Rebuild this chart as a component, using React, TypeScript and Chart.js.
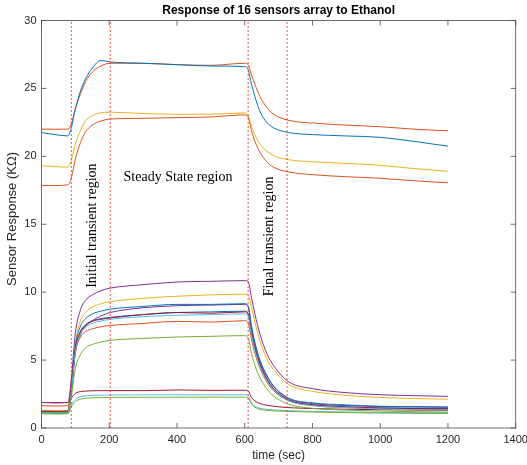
import React, { useEffect, useRef } from "react";
import { Chart, registerables } from "chart.js";

Chart.register(...registerables);

// ---- data -------------------------------------------------------------
const TIMES = [0, 40, 78, 88, 100, 115, 130, 150, 175, 203, 300, 400, 500, 600, 610, 620, 630, 645, 665, 685, 730, 800, 900, 1000, 1100, 1200];

// upper group
const S_BLUE_HI = [21.75, 21.6, 21.5, 22.1, 23.5, 24.8, 25.7, 26.5, 27.05, 26.95, 26.85, 26.75, 26.65, 26.6, 26.4, 25.3, 24.4, 23.3, 22.5, 22.1, 21.75, 21.6, 21.5, 21.4, 21.1, 20.75];
const S_RED_HI = [22.0, 22.0, 22.0, 22.4, 23.5, 24.6, 25.5, 26.2, 26.65, 26.85, 26.85, 26.75, 26.7, 26.85, 26.75, 26.0, 25.3, 24.4, 23.6, 23.1, 22.65, 22.45, 22.3, 22.18, 22.0, 21.88];
const S_YELLOW_HI = [19.3, 19.25, 19.2, 19.7, 20.9, 21.9, 22.6, 23.0, 23.2, 23.25, 23.15, 23.1, 23.1, 23.2, 23.05, 22.2, 21.6, 20.9, 20.4, 20.05, 19.75, 19.6, 19.48, 19.34, 19.1, 18.9];
const S_RED_MID = [17.85, 17.85, 17.9, 18.4, 19.8, 21.0, 21.8, 22.3, 22.6, 22.75, 22.8, 22.85, 22.9, 23.05, 22.9, 21.9, 21.1, 20.3, 19.6, 19.2, 18.85, 18.65, 18.5, 18.38, 18.2, 18.05];

// lower group
const S_PURPLE_A = [1.88, 1.86, 1.88, 3.6, 7.0, 8.7, 9.4, 9.8, 10.1, 10.3, 10.55, 10.75, 10.8, 10.85, 10.8, 9.6, 8.4, 6.9, 5.5, 4.6, 3.4, 2.9, 2.6, 2.45, 2.38, 2.33];
const S_YELLOW_LO = [1.3, 1.28, 1.3, 3.0, 6.2, 7.9, 8.5, 8.9, 9.15, 9.3, 9.55, 9.7, 9.8, 9.85, 9.8, 8.9, 7.8, 6.4, 5.1, 4.3, 3.2, 2.7, 2.4, 2.25, 2.17, 2.12];
const S_BLUE_A = [1.15, 1.12, 1.15, 2.9, 6.0, 7.5, 8.05, 8.4, 8.6, 8.75, 8.95, 9.1, 9.1, 9.15, 9.0, 7.5, 6.3, 5.0, 3.9, 3.1, 2.2, 1.85, 1.7, 1.6, 1.57, 1.55];
const S_PURPLE_B = [1.22, 1.2, 1.22, 2.7, 5.5, 6.9, 7.5, 7.9, 8.25, 8.5, 8.85, 9.0, 9.05, 9.1, 8.95, 7.4, 6.2, 4.9, 3.8, 3.05, 2.15, 1.8, 1.65, 1.58, 1.55, 1.52];
const S_BLUE_B = [1.1, 1.08, 1.1, 2.8, 5.7, 7.1, 7.6, 7.9, 8.05, 8.15, 8.35, 8.5, 8.55, 8.6, 8.45, 7.0, 5.9, 4.7, 3.6, 2.9, 2.05, 1.7, 1.55, 1.48, 1.45, 1.43];
const S_MAROON_A = [1.25, 1.22, 1.25, 2.9, 5.8, 7.1, 7.55, 7.85, 8.0, 8.1, 8.35, 8.5, 8.45, 8.55, 8.4, 7.0, 5.9, 4.7, 3.6, 2.9, 2.05, 1.72, 1.55, 1.47, 1.43, 1.4];
const S_CYAN_A = [1.15, 1.13, 1.15, 2.7, 5.6, 6.9, 7.4, 7.7, 7.88, 8.0, 8.2, 8.3, 8.35, 8.4, 8.25, 6.8, 5.7, 4.5, 3.5, 2.8, 2.0, 1.65, 1.5, 1.4, 1.35, 1.33];
const S_ORANGE_LO = [1.64, 1.62, 1.64, 3.0, 5.6, 6.7, 7.1, 7.3, 7.45, 7.55, 7.7, 7.85, 7.8, 7.9, 7.75, 6.5, 5.5, 4.4, 3.4, 2.75, 2.0, 1.65, 1.5, 1.42, 1.38, 1.35];
const S_GREEN_A = [1.1, 1.08, 1.1, 2.3, 4.4, 5.4, 5.9, 6.15, 6.33, 6.45, 6.6, 6.7, 6.75, 6.8, 6.65, 5.5, 4.6, 3.7, 2.9, 2.35, 1.75, 1.45, 1.32, 1.25, 1.2, 1.17];
const S_MAROON_B = [1.88, 1.86, 1.88, 2.2, 2.55, 2.68, 2.72, 2.74, 2.75, 2.75, 2.75, 2.8, 2.77, 2.78, 2.72, 2.25, 2.0, 1.8, 1.68, 1.6, 1.5, 1.43, 1.38, 1.35, 1.32, 1.3];
const S_CYAN_B = [1.15, 1.13, 1.15, 1.7, 2.1, 2.3, 2.37, 2.4, 2.42, 2.43, 2.44, 2.45, 2.44, 2.45, 2.4, 1.85, 1.6, 1.45, 1.37, 1.33, 1.28, 1.22, 1.18, 1.15, 1.13, 1.12];
const S_GREEN_B = [1.05, 1.03, 1.05, 1.55, 1.95, 2.12, 2.19, 2.22, 2.24, 2.25, 2.26, 2.27, 2.27, 2.27, 2.22, 1.75, 1.52, 1.38, 1.3, 1.26, 1.22, 1.17, 1.13, 1.1, 1.08, 1.07];

const REGION_BOUNDS = [88, 203, 610, 725];
const X_TICKS = [0, 200, 400, 600, 800, 1000, 1200, 1400];
const Y_TICKS = [0, 5, 10, 15, 20, 25, 30];

const TITLE = "Response of 16 sensors array to Ethanol";
const X_LABEL = "time (sec)";
const Y_LABEL = "Sensor Response (KΩ)";
const REGION_TEXTS = [
  { text: "Initial transient region", x: 149, y: 14.9, vertical: true },
  { text: "Steady State region", x: 403, y: 18.45, vertical: false },
  { text: "Final transient region", x: 673, y: 14.1, vertical: true },
];

const SERIES: { values: number[]; color: string }[] = [
  { values: S_BLUE_HI, color: "#0072BD" },
  { values: S_RED_HI, color: "#D95319" },
  { values: S_YELLOW_HI, color: "#EDB120" },
  { values: S_PURPLE_A, color: "#7E2F8E" },
  { values: S_GREEN_A, color: "#77AC30" },
  { values: S_CYAN_A, color: "#4DBEEE" },
  { values: S_MAROON_A, color: "#A2142F" },
  { values: S_BLUE_A, color: "#0072BD" },
  { values: S_ORANGE_LO, color: "#D95319" },
  { values: S_YELLOW_LO, color: "#EDB120" },
  { values: S_PURPLE_B, color: "#7E2F8E" },
  { values: S_GREEN_B, color: "#77AC30" },
  { values: S_CYAN_B, color: "#4DBEEE" },
  { values: S_MAROON_B, color: "#A2142F" },
  { values: S_BLUE_B, color: "#0072BD" },
  { values: S_RED_MID, color: "#D95319" },
];

const SANS = "'Liberation Sans', Arial, sans-serif";
const SERIF = "'Liberation Serif', 'Times New Roman', serif";

const decorPlugin = {
  id: "decor",
  afterDraw(chart: any) {
    const { ctx, chartArea: a, scales } = chart;
    const xs = scales.x;
    const ys = scales.y;
    ctx.save();
    // box
    ctx.strokeStyle = "#4a4a4a";
    ctx.lineWidth = 0.8;
    ctx.strokeRect(a.left, a.top, a.right - a.left, a.bottom - a.top);
    // inward ticks on all four sides
    const tl = 5;
    ctx.beginPath();
    X_TICKS.forEach((v) => {
      const px = xs.getPixelForValue(v);
      ctx.moveTo(px, a.bottom);
      ctx.lineTo(px, a.bottom - tl);
      ctx.moveTo(px, a.top);
      ctx.lineTo(px, a.top + tl);
    });
    Y_TICKS.forEach((v) => {
      const py = ys.getPixelForValue(v);
      ctx.moveTo(a.left, py);
      ctx.lineTo(a.left + tl, py);
      ctx.moveTo(a.right, py);
      ctx.lineTo(a.right - tl, py);
    });
    ctx.stroke();

    // title
    ctx.fillStyle = "#000";
    ctx.textAlign = "center";
    ctx.textBaseline = "middle";
    ctx.font = `bold 12px ${SANS}`;
    ctx.fillText(TITLE, (a.left + a.right) / 2, 11);

    // axis titles
    ctx.fillStyle = "#262626";
    ctx.font = `12px ${SANS}`;
    ctx.fillText(X_LABEL, (a.left + a.right) / 2, 456);
    ctx.save();
    ctx.font = `13px ${SANS}`;
    ctx.translate(12, 219);
    ctx.rotate(-Math.PI / 2);
    ctx.fillText(Y_LABEL, 0, 0);
    ctx.restore();

    // region annotations
    ctx.fillStyle = "#000";
    ctx.font = `14px ${SERIF}`;
    REGION_TEXTS.forEach((t) => {
      const px = xs.getPixelForValue(t.x);
      const py = ys.getPixelForValue(t.y);
      ctx.save();
      ctx.translate(px, py);
      if (t.vertical) ctx.rotate(-Math.PI / 2);
      ctx.fillText(t.text, 0, 0);
      ctx.restore();
    });
    ctx.restore();
  },
};

export default function App() {
  const ref = useRef<HTMLCanvasElement | null>(null);

  useEffect(() => {
    if (!ref.current) return;
    const lineSets = REGION_BOUNDS.map((b) => ({
      data: [
        { x: b, y: 0 },
        { x: b, y: 30 },
      ],
      borderColor: "rgba(235,60,60,0.9)",
      borderWidth: 1,
      borderDash: [2, 2],
      pointRadius: 0,
      tension: 0,
    }));
    const sensorSets = SERIES.map((s) => ({
      data: TIMES.map((t, i) => ({ x: t, y: s.values[i] })),
      borderColor: s.color,
      borderWidth: 1,
      pointRadius: 0,
      cubicInterpolationMode: "monotone" as const,
    }));

    const chart = new Chart(ref.current, {
      type: "line",
      data: { datasets: [...lineSets, ...sensorSets] as any },
      options: {
        responsive: false,
        animation: false,
        parsing: false as any,
        layout: { padding: { top: 20.5, right: 11.3, left: 0, bottom: 0 } },
        plugins: {
          legend: { display: false },
          title: { display: false },
          tooltip: { enabled: false },
        },
        scales: {
          x: {
            type: "linear",
            min: 0,
            max: 1400,
            grid: { display: false, drawTicks: false },
            border: { display: false },
            ticks: {
              stepSize: 200,
              padding: 5,
              color: "#262626",
              font: { family: SANS, size: 11 },
              maxRotation: 0,
              callback: (v: any) => String(v),
            },
            afterFit: (s: any) => {
              s.height = 37;
              s.paddingLeft = 0;
              s.paddingRight = 0;
            },
          },
          y: {
            type: "linear",
            min: 0,
            max: 30,
            grid: { display: false, drawTicks: false },
            border: { display: false },
            ticks: {
              stepSize: 5,
              padding: 5,
              color: "#262626",
              font: { family: SANS, size: 11 },
              callback: (v: any) => String(v),
            },
            afterFit: (s: any) => {
              s.width = 41.5;
            },
          },
        },
      },
      plugins: [decorPlugin],
    });
    return () => chart.destroy();
  }, []);

  return (
    <div style={{ position: "fixed", left: 0, top: 0, width: 527, height: 465, background: "#fff" }}>
      <canvas ref={ref} width={527} height={465} style={{ display: "block" }} />
    </div>
  );
}
